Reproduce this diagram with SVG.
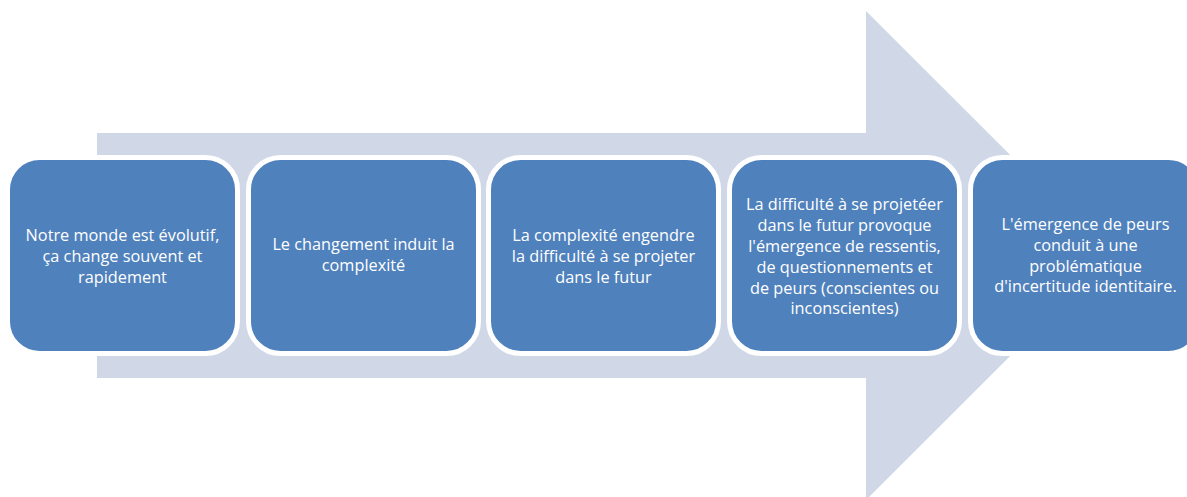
<svg xmlns="http://www.w3.org/2000/svg" width="1187" height="497" viewBox="0 0 1187 497">
<style>
.box{fill:#4F81BD;stroke:#FFFFFF;stroke-width:5}
.t{font-family:"Open Sans","Liberation Sans",Arial,sans-serif;font-size:16.3px;fill:#FFFFFF;text-anchor:middle}
</style>
<rect width="1187" height="497" fill="#FFFFFF"/>
<g id="connectors">
<polygon points="97,133 866,133 866,11 1111,255.5 866,500 866,378 97,378" fill="#D0D8E8"/>
</g>
<g id="node1">
<rect class="box" x="7.5" y="157.5" width="230" height="196" rx="32"/>
<text class="t" x="122.5" y="241">Notre monde est évolutif,</text>
<text class="t" x="122.5" y="262">ça change souvent et</text>
<text class="t" x="122.5" y="283">rapidement</text>
</g>
<g id="node2">
<rect class="box" x="248.5" y="157.5" width="230" height="196" rx="32"/>
<text class="t" x="363.5" y="250">Le changement induit la</text>
<text class="t" x="363.5" y="271">complexité</text>
</g>
<g id="node3">
<rect class="box" x="488.5" y="157.5" width="230" height="196" rx="32"/>
<text class="t" x="603.5" y="241">La complexité engendre</text>
<text class="t" x="603.5" y="262">la difficulté à se projeter</text>
<text class="t" x="603.5" y="283">dans le futur</text>
</g>
<g id="node4">
<rect class="box" x="729.5" y="157.5" width="230" height="196" rx="32"/>
<text class="t" x="844.5" y="210">La difficulté à se projetéer</text>
<text class="t" x="844.5" y="231">dans le futur provoque</text>
<text class="t" x="844.5" y="252">l'émergence de ressentis,</text>
<text class="t" x="844.5" y="273">de questionnements et</text>
<text class="t" x="844.5" y="294">de peurs (conscientes ou</text>
<text class="t" x="844.5" y="314">inconscientes)</text>
</g>
<g id="node5">
<rect class="box" x="970.5" y="157.5" width="230" height="196" rx="32"/>
<text class="t" x="1085.5" y="230">L'émergence de peurs</text>
<text class="t" x="1085.5" y="251">conduit à une</text>
<text class="t" x="1085.5" y="272">problématique</text>
<text class="t" x="1085.5" y="292">d'incertitude identitaire.</text>
</g>
</svg>
